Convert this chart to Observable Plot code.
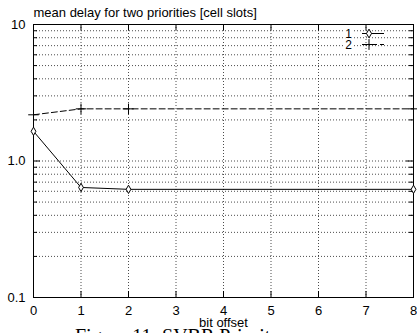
<!DOCTYPE html>
<html>
<head>
<meta charset="utf-8">
<script src="https://cdn.jsdelivr.net/npm/d3@7"></script>
<script src="https://cdn.jsdelivr.net/npm/@observablehq/plot@0.6"></script>
<style>
  html, body { margin: 0; padding: 0; background: white; overflow: hidden; }
  #wrap { position: relative; width: 417px; height: 333px; overflow: hidden; }
  #caption { position: absolute; left: 75px; top: 326px; font-family: "Liberation Serif", "Times New Roman", serif; font-size: 20px; line-height: 20px; white-space: nowrap; color: #000; }
  #legend { position: absolute; left: 0; top: 0; }
</style>
</head>
<body>
<div id="wrap">
  <div id="chart"></div>
  <div id="caption">Figure 11: SVBR Priority</div>
</div>
<script>
// ---- data ----
const titleText = "mean delay for two priorities [cell slots]";
const xLabelText = "bit offset";
const xTicks = [0, 1, 2, 3, 4, 5, 6, 7, 8];
const yMajor = [0.1, 1, 10];
const yMajorLabels = ["0.1", "1.0", "10"];
const seriesNames = ["1", "2"];
const bitOffset1 = [0, 1, 2, 8];
const delay1 = [1.65, 0.64, 0.62, 0.62];
const bitOffset2 = [0, 1, 2, 8];
const delay2 = [2.18, 2.41, 2.41, 2.41];

// ---- derived ----
const yMinor = [];
for (const dec of [0.1, 1]) for (let k = 2; k <= 9; k++) yMinor.push(+(dec * k).toFixed(2));
const yGrid = yMinor.concat([1]);
const xGrid = xTicks.slice(1, -1);
const s1 = bitOffset1.map((x, i) => ({x, y: delay1[i]}));
const s2 = bitOffset2.map((x, i) => ({x, y: delay2[i]}));

const W = 417, H = 333, mL = 33, mR = 4, mT = 24, mB = 36;
const fw = W - mL - mR, fh = H - mT - mB;
const dotted = {stroke: "#000", strokeWidth: 1, strokeDasharray: "1,2", strokeOpacity: 0.7};

const chart = Plot.plot({
  width: W, height: H,
  marginLeft: mL, marginRight: mR, marginTop: mT, marginBottom: mB,
  style: {fontFamily: "'Liberation Sans', Arial, sans-serif", fontSize: "13px", background: "white", color: "black"},
  x: {domain: [0, 8]},
  y: {type: "log", domain: [0.1, 10]},
  marks: [
    Plot.ruleX(xGrid, {x: d => d, ...dotted}),
    Plot.ruleY(yGrid, {y: d => d, ...dotted}),
    // left/right ticks
    Plot.tickY(yMajor, {y: d => d, insetRight: fw - 7, stroke: "#000"}),
    Plot.tickY(yMajor, {y: d => d, insetLeft: fw - 7, stroke: "#000"}),
    Plot.tickY(yMinor, {y: d => d, insetRight: fw - 4, stroke: "#000"}),
    Plot.tickY(yMinor, {y: d => d, insetLeft: fw - 4, stroke: "#000"}),
    // bottom/top ticks
    Plot.tickX(xTicks, {x: d => d, insetTop: fh - 6, stroke: "#000"}),
    Plot.tickX(xTicks, {x: d => d, insetBottom: fh - 6, stroke: "#000"}),
    Plot.frame({stroke: "#000", strokeWidth: 1}),
    Plot.axisY(yMajor, {tickSize: 0, tickPadding: 8, tickFormat: d => yMajorLabels[yMajor.indexOf(d)], label: null, fontSize: 13}),
    Plot.axisX(xTicks, {tickSize: 0, tickPadding: 8, label: null, fontSize: 13}),
    Plot.line(s2, {x: "x", y: "y", stroke: "#000", strokeWidth: 1, strokeDasharray: "6,3"}),
    Plot.dot(s2, {x: "x", y: "y", symbol: "plus", r: 3.5, stroke: "#000", strokeWidth: 1}),
    Plot.line(s1, {x: "x", y: "y", stroke: "#000", strokeWidth: 1}),
    Plot.dot(s1, {x: "x", y: "y", symbol: "diamond", r: 2.5, stroke: "#000", fill: "white", strokeWidth: 1}),
    Plot.text([titleText], {frameAnchor: "top-left", textAnchor: "start", lineAnchor: "bottom", dy: -8, fontSize: 13}),
    Plot.text([xLabelText], {frameAnchor: "bottom", textAnchor: "middle", lineAnchor: "bottom", dy: 29, fontSize: 13})
  ]
});
document.getElementById("chart").appendChild(chart);

// legend overlay (top-right, inside the frame)
const leg = d3.select("#wrap").append("svg").attr("id", "legend")
  .attr("width", W).attr("height", H)
  .style("font-family", "'Liberation Sans', Arial, sans-serif").style("font-size", "12px");
const rows = [
  {name: seriesNames[0], dash: null, sym: d3.symbolDiamond, size: 22},
  {name: seriesNames[1], dash: "6,3", sym: d3.symbolPlus, size: 40}
];
rows.forEach((r, i) => {
  const y = 33.5 + i * 11;
  leg.append("rect").attr("x", 344).attr("y", y - 5).attr("width", 10).attr("height", 10).attr("fill", "white");
  leg.append("text").attr("x", 352).attr("y", y).attr("dy", "0.35em").attr("text-anchor", "end").text(r.name);
  leg.append("line").attr("x1", 362).attr("x2", 384).attr("y1", y).attr("y2", y)
    .attr("stroke", "#000").attr("stroke-dasharray", r.dash);
  leg.append("path").attr("transform", `translate(369,${y})`).attr("d", d3.symbol(r.sym, r.size)())
    .attr("stroke", "#000").attr("fill", i === 0 ? "white" : "none");
});
</script>
</body>
</html>
